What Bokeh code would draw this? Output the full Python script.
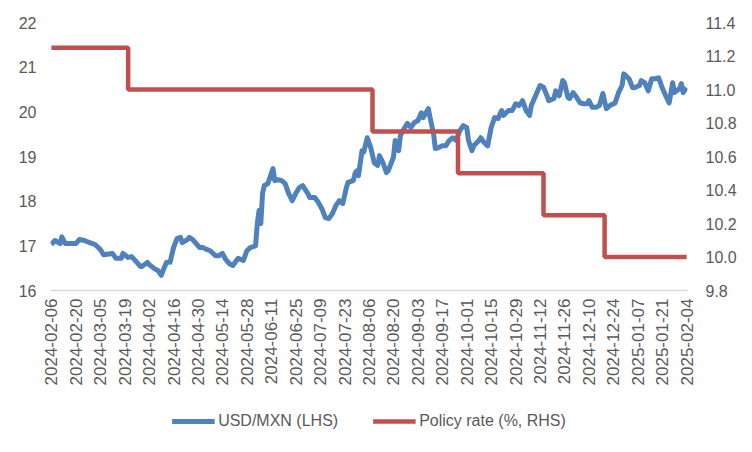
import math
import pandas as pd
from bokeh.plotting import figure
from bokeh.models import (Range1d, LinearAxis, FixedTicker, NumeralTickFormatter,
                          DatetimeTickFormatter, Legend, LegendItem)
from bokeh.embed import file_html
from bokeh.resources import INLINE

# ---------------- data ----------------
start_date = "2024-02-06"
usd_day_offset = [
    0, 2, 5, 6, 8, 10, 14, 16, 19, 22,
    25, 28, 30, 35, 37, 40, 41, 44, 46, 49,
    51, 52, 55, 56, 59, 61, 63, 64, 66, 68,
    70, 72, 74, 75, 78, 79, 81, 83, 85, 87,
    89, 91, 94, 96, 98, 100, 102, 104, 107, 110,
    112, 114, 117, 118, 119, 120, 121, 122, 124, 125,
    127, 128, 130, 132, 134, 136, 138, 140, 142, 144,
    147, 148, 151, 153, 155, 157, 159, 161, 163, 165,
    167, 169, 170, 173, 174, 175, 176, 178, 179, 181,
    183, 185, 187, 188, 190, 192, 193, 196, 197, 199,
    200, 202, 204, 206, 208, 210, 212, 213, 216, 217,
    219, 220, 222, 224, 226, 228, 230, 232, 234, 236,
    238, 239, 241, 242, 245, 246, 248, 250, 252, 254,
    256, 258, 259, 262, 264, 265, 266, 268, 270, 272,
    274, 275, 277, 280, 282, 284, 285, 288, 289, 291,
    293, 294, 296, 297, 299, 301, 303, 305, 307, 308,
    310, 312, 314, 316, 318, 320, 323, 325, 327, 328,
    331, 333, 334, 337, 338, 340, 342, 344, 346, 348,
    350, 352, 354, 356, 357, 360, 361, 362, 364,
]
usd_mxn = [
    17.03, 17.12, 17.05, 17.20, 17.05, 17.05, 17.05, 17.14, 17.12, 17.07,
    17.03, 16.92, 16.80, 16.83, 16.72, 16.72, 16.83, 16.74, 16.76, 16.63,
    16.54, 16.54, 16.63, 16.58, 16.49, 16.45, 16.34, 16.45, 16.63, 16.63,
    16.96, 17.16, 17.19, 17.07, 17.14, 17.19, 17.14, 17.05, 16.96, 16.96,
    16.92, 16.89, 16.78, 16.78, 16.83, 16.69, 16.60, 16.56, 16.72, 16.67,
    16.89, 16.96, 17.00, 17.50, 17.79, 17.50, 18.17, 18.35, 18.39, 18.50,
    18.73, 18.46, 18.48, 18.46, 18.39, 18.17, 18.01, 18.17, 18.30, 18.35,
    18.17, 18.08, 18.08, 17.97, 17.83, 17.63, 17.61, 17.72, 17.90, 18.01,
    17.95, 18.30, 18.42, 18.46, 18.62, 18.68, 18.57, 19.13, 19.10, 19.42,
    19.20, 18.86, 18.80, 19.02, 18.86, 18.64, 18.68, 18.98, 19.36, 19.13,
    19.47, 19.62, 19.74, 19.65, 19.76, 19.80, 19.98, 19.87, 20.07, 19.87,
    19.51, 19.18, 19.20, 19.24, 19.24, 19.36, 19.42, 19.36, 19.58, 19.69,
    19.65, 19.36, 19.13, 19.24, 19.36, 19.42, 19.31, 19.24, 19.65, 19.87,
    19.85, 20.03, 19.92, 20.03, 20.03, 20.10, 20.18, 20.14, 20.25, 20.03,
    19.92, 20.14, 20.32, 20.59, 20.55, 20.36, 20.25, 20.30, 20.47, 20.36,
    20.70, 20.65, 20.32, 20.30, 20.43, 20.32, 20.20, 20.18, 20.18, 20.25,
    20.10, 20.10, 20.14, 20.41, 20.07, 20.14, 20.20, 20.43, 20.59, 20.85,
    20.74, 20.54, 20.54, 20.59, 20.70, 20.65, 20.47, 20.74, 20.74, 20.76,
    20.54, 20.36, 20.20, 20.65, 20.43, 20.52, 20.63, 20.43, 20.54,
]
policy_dates = ["2024-02-06", "2024-03-21", "2024-08-08", "2024-09-26",
                "2024-11-14", "2024-12-19", "2025-02-04"]
policy_rate = [11.25, 11.00, 10.75, 10.50, 10.25, 10.00, 10.00]

x_tick_labels = ["2024-02-06", "2024-02-20", "2024-03-05", "2024-03-19", "2024-04-02",
                 "2024-04-16", "2024-04-30", "2024-05-14", "2024-05-28", "2024-06-11",
                 "2024-06-25", "2024-07-09", "2024-07-23", "2024-08-06", "2024-08-20",
                 "2024-09-03", "2024-09-17", "2024-10-01", "2024-10-15", "2024-10-29",
                 "2024-11-12", "2024-11-26", "2024-12-10", "2024-12-24", "2025-01-07",
                 "2025-01-21", "2025-02-04"]
left_ticks = [16, 17, 18, 19, 20, 21, 22]
right_ticks = [9.8, 10.0, 10.2, 10.4, 10.6, 10.8, 11.0, 11.2, 11.4]

# ---------------- derived ----------------
t0 = pd.Timestamp(start_date)
usd_x = t0 + pd.to_timedelta(usd_day_offset, unit="D")
pol_x = pd.to_datetime(policy_dates)
tick_ms = [float(v) for v in (pd.to_datetime(x_tick_labels).astype("int64") // 10**6)]

FONT = "Liberation Sans"
TXT = "#595959"
BLUE = "#4F81BD"
RED = "#C0504D"

x_start = pd.to_datetime(x_tick_labels[0]) - pd.Timedelta(hours=12)
x_end = pd.to_datetime(x_tick_labels[-1]) + pd.Timedelta(hours=12)

p = figure(frame_width=637, frame_height=268, x_axis_type="datetime",
           x_range=Range1d(x_start, x_end), y_range=Range1d(16, 22),
           output_backend="svg", toolbar_location=None,
           min_border_left=50, min_border_right=65, min_border_top=22, min_border_bottom=0)
p.extra_y_ranges = {"rate": Range1d(9.8, 11.4)}

p.grid.visible = False
p.outline_line_color = None
p.background_fill_color = "white"
p.border_fill_color = "white"

# x axis
xa = p.xaxis[0]
xa.ticker = FixedTicker(ticks=tick_ms)
fmt = "%Y-%m-%d"
xa.formatter = DatetimeTickFormatter(days=fmt, months=fmt, years=fmt, hours=fmt,
                                     hourmin=fmt, minutes=fmt, minsec=fmt, seconds=fmt,
                                     milliseconds=fmt, microseconds=fmt)
xa.major_label_orientation = math.pi / 2
xa.major_tick_out = 0
xa.major_tick_in = 0
xa.minor_tick_out = 0
xa.minor_tick_in = 0
xa.axis_line_color = "#D9D9D9"
xa.axis_line_width = 1.5
xa.major_label_standoff = 8
xa.major_label_text_font = FONT
xa.major_label_text_font_size = "17px"
xa.major_label_text_color = TXT

# left axis
ya = p.yaxis[0]
ya.ticker = FixedTicker(ticks=left_ticks)
ya.axis_line_color = None
ya.major_tick_out = 0
ya.major_tick_in = 0
ya.minor_tick_out = 0
ya.minor_tick_in = 0
ya.major_label_standoff = 14
ya.major_label_text_font = FONT
ya.major_label_text_font_size = "16px"
ya.major_label_text_color = TXT

# right axis
ra = LinearAxis(y_range_name="rate", ticker=FixedTicker(ticks=right_ticks),
                formatter=NumeralTickFormatter(format="0.0"))
ra.axis_line_color = None
ra.major_tick_out = 0
ra.major_tick_in = 0
ra.minor_tick_out = 0
ra.minor_tick_in = 0
ra.major_label_standoff = 18
ra.major_label_text_font = FONT
ra.major_label_text_font_size = "16px"
ra.major_label_text_color = TXT
p.add_layout(ra, "right")

# series
r_usd = p.line(usd_x, usd_mxn, line_color=BLUE, line_width=5, line_join="round")
r_pol = p.step(pol_x, policy_rate, mode="after", y_range_name="rate",
               line_color=RED, line_width=4.5)

legend = Legend(items=[LegendItem(label="USD/MXN (LHS)", renderers=[r_usd]),
                       LegendItem(label="Policy rate (%, RHS)", renderers=[r_pol])],
                orientation="horizontal", location="center",
                label_text_font=FONT, label_text_font_size="16px", label_text_color=TXT,
                glyph_width=43, glyph_height=20, label_standoff=4, spacing=34,
                border_line_color=None, background_fill_alpha=0,
                padding=6, margin=-225)
p.add_layout(legend, "below")

open("out.html", "w").write(file_html(p, INLINE))
